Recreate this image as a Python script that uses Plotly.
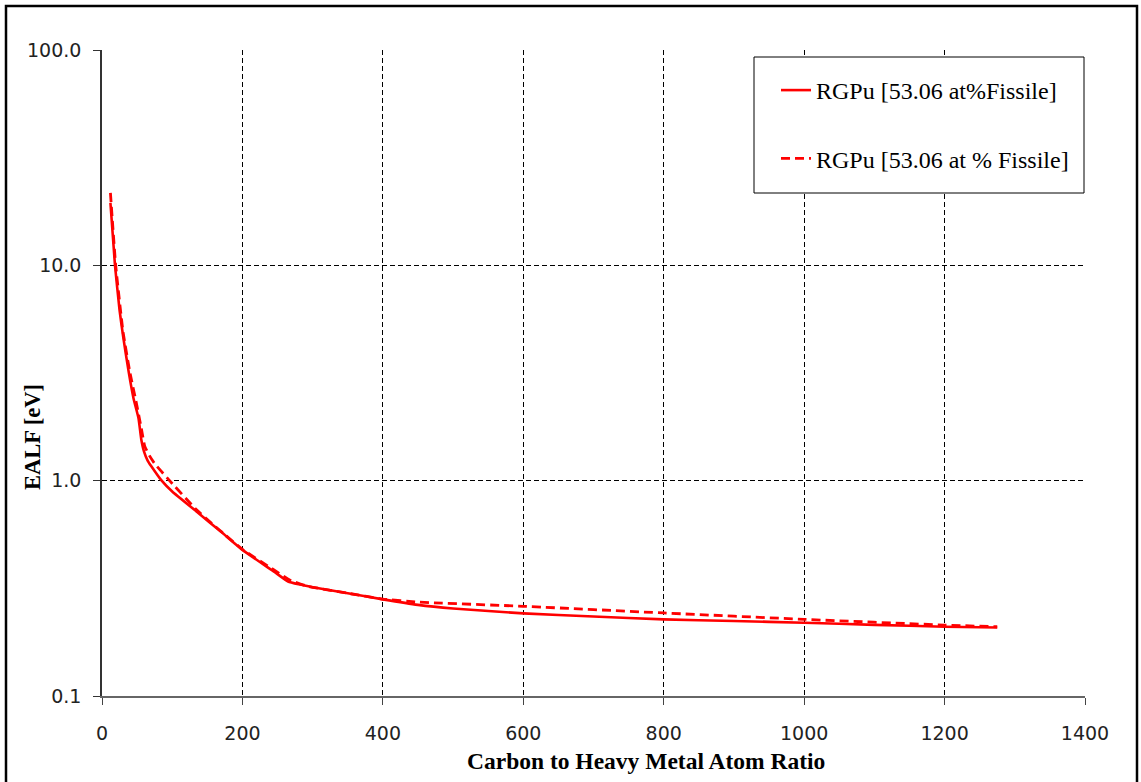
import plotly.graph_objects as go

# ---------------- data ----------------
solid_x = [12, 18.5, 25, 30, 38, 45, 52, 56, 60, 65, 70, 85, 100, 135, 170, 200, 245, 265,
           280, 300, 350, 400, 450, 500, 600, 700, 800, 900, 1000, 1100, 1200, 1275]
solid_y = [19.5, 10.0, 6.2, 4.7, 3.2, 2.4, 1.95, 1.55, 1.36, 1.24, 1.17, 1.0, 0.89, 0.717,
           0.577, 0.477, 0.378, 0.340, 0.330, 0.320, 0.300, 0.281, 0.265, 0.255, 0.242,
           0.234, 0.227, 0.223, 0.219, 0.214, 0.2097, 0.208]

dash_x = [12, 19.5, 30, 40, 49, 56, 61, 68, 75, 94, 135, 200, 245, 268, 292, 350, 400,
          450, 600, 800, 1000, 1200, 1275]
dash_y = [21.7, 10.0, 4.9, 3.15, 2.29, 1.75, 1.44, 1.30, 1.20, 1.02, 0.73, 0.48, 0.385,
          0.345, 0.324, 0.300, 0.282, 0.273, 0.261, 0.243, 0.227, 0.2135, 0.2097]

series_names = ["RGPu [53.06 at%Fissile]", "RGPu [53.06 at % Fissile]"]

x_ticks = [0, 200, 400, 600, 800, 1000, 1200, 1400]
y_ticks = [0.1, 1, 10, 100]
y_tick_text = ["0.1", "1.0", "10.0", "100.0"]

x_title = "Carbon to Heavy Metal Atom Ratio"
y_title = "EALF [eV]"

# ---------------- layout constants ----------------
W, H = 1141, 782
L, R, T, B = 102, 56, 50, 86
PW, PH = W - L - R, H - T - B


def px_x(p):
    return (p - L) / PW


def px_y(p):
    return (H - B - p) / PH


fig = go.Figure()
fig.add_trace(go.Scatter(
    x=solid_x, y=solid_y, mode="lines", name=series_names[0],
    legendgroup="a",
    line=dict(color="#FF0000", width=2.6, shape="spline", smoothing=0.4),
))
fig.add_trace(go.Scatter(
    x=dash_x, y=dash_y, mode="lines", name=series_names[1],
    legendgroup="b",
    line=dict(color="#FF0000", width=2.8, dash="9px,5px", shape="spline", smoothing=0.4),
))

tick_font = dict(family="DejaVu Sans", size=19, color="#222222")

fig.update_xaxes(
    range=[0, 1400], tickvals=x_ticks, ticks="outside", ticklen=7, tickcolor="#444444",
    showline=True, linecolor="#666666", linewidth=1.5,
    showgrid=True, gridcolor="#000000", griddash="5px,3px", gridwidth=1,
    zeroline=False, tickfont=tick_font, ticklabelstandoff=12,
)
fig.update_yaxes(
    type="log", range=[-1, 2], tickvals=y_ticks, ticktext=y_tick_text,
    ticks="outside", ticklen=7, tickcolor="#333333",
    showline=True, linecolor="#333333", linewidth=1.5,
    showgrid=True, gridcolor="#000000", griddash="5px,3px", gridwidth=1,
    zeroline=False, tickfont=tick_font, ticklabelstandoff=8,
)

shapes = [
    # legend box
    dict(type="rect", xref="paper", yref="paper",
         x0=px_x(754), x1=px_x(1084), y0=px_y(193), y1=px_y(57),
         fillcolor="white", line=dict(color="black", width=1), layer="above"),
    # outer frame
    dict(type="rect", xref="paper", yref="paper",
         x0=px_x(6), x1=px_x(1137), y0=px_y(800), y1=px_y(6),
         line=dict(color="black", width=2.5), fillcolor="rgba(0,0,0,0)", layer="above"),
]

annotations = [
    dict(text=x_title, xref="paper", yref="paper", x=px_x(646), y=px_y(761),
         showarrow=False, xanchor="center", yanchor="middle",
         font=dict(family="Liberation Serif", size=23.5, color="black", weight="bold")),
    dict(text=y_title, xref="paper", yref="paper", x=px_x(32), y=px_y(437),
         showarrow=False, xanchor="center", yanchor="middle", textangle=-90,
         font=dict(family="Liberation Serif", size=22.5, color="black", weight="bold")),
]

fig.update_layout(
    width=W, height=H,
    margin=dict(l=L, r=R, t=T, b=B),
    paper_bgcolor="white", plot_bgcolor="white",
    shapes=shapes, annotations=annotations,
    legend=dict(
        x=px_x(776), y=px_y(68), xanchor="left", yanchor="top",
        bgcolor="rgba(0,0,0,0)", borderwidth=0,
        font=dict(family="Liberation Serif", size=24, color="black"),
        tracegroupgap=34, traceorder="grouped",
    ),
    showlegend=True,
)

fig.write_html("out.html")
